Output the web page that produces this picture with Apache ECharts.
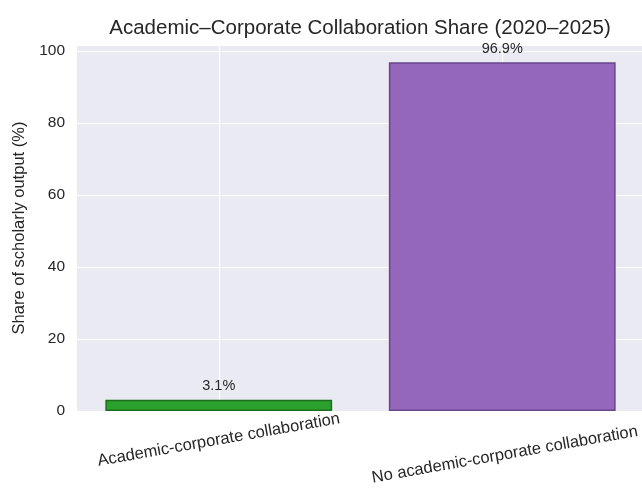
<!DOCTYPE html>
<html>
<head>
<meta charset="utf-8">
<script src="https://cdn.jsdelivr.net/npm/echarts@6/dist/echarts.min.js"></script>
<style>
  html, body { margin: 0; padding: 0; background: #ffffff; }
  #chart { width: 642px; height: 490px; }
</style>
</head>
<body>
<div id="chart"></div>
<script>
// Share of scholarly output, 2020–2025
const categories = ['Academic-corporate collaboration', 'No academic-corporate collaboration'];
const shares = [3.1, 96.9];
const barColors = ['#2ca02c', '#9467bd'];
const edgeColors = ['#1d6e1d', '#67468a'];
const yTicks = [0, 20, 40, 60, 80, 100];

const FONT = '"Liberation Sans", Arial, sans-serif';
const TEXT = '#262626';
const X_LABEL = { fontFamily: FONT, fontSize: 16.5, color: TEXT };

const chart = echarts.init(document.getElementById('chart'), null, { renderer: 'canvas' });

chart.setOption({
  animation: false,
  backgroundColor: '#ffffff',
  textStyle: { fontFamily: FONT },
  title: {
    text: 'Academic\u2013Corporate Collaboration Share (2020\u20132025)',
    left: 355,
    textAlign: 'center',
    top: 13,
    textStyle: { fontFamily: FONT, fontSize: 20.5, fontWeight: 'normal', color: TEXT }
  },
  grid: {
    left: 77, right: -2, top: 45, bottom: 79,
    containLabel: false,
    outerBoundsMode: 'none',
    show: true, backgroundColor: '#eaeaf2', borderWidth: 0
  },
  xAxis: {
    type: 'category',
    data: categories,
    boundaryGap: true,
    axisLine: { show: false },
    axisTick: { show: false },
    splitLine: { show: false },
    axisLabel: {
      rotate: 10,
      align: 'center',
      margin: 29,
      ...X_LABEL,
      interval: 0,
      // the longer label hangs a little lower, as its rotated box is taller
      formatter: (v, i) => (i === 1 ? '{low|' + v + '}' : '{std|' + v + '}'),
      rich: {
        std: { ...X_LABEL },
        low: { ...X_LABEL, padding: [30, 0, 0, 0] }
      }
    }
  },
  yAxis: {
    type: 'value',
    min: 0,
    max: 101.7,
    interval: 20,
    name: 'Share of scholarly output (%)',
    nameLocation: 'middle',
    nameGap: 48,
    nameTextStyle: { fontFamily: FONT, fontSize: 16.5, color: TEXT },
    axisLine: { show: false },
    axisTick: { show: false },
    axisLabel: {
      showMaxLabel: false,
      margin: 12,
      fontFamily: FONT,
      fontSize: 15.5,
      color: TEXT,
      formatter: v => (yTicks.includes(v) ? String(v) : '')
    },
    splitLine: { show: true, lineStyle: { color: '#ffffff', width: 1.2 } }
  },
  series: [
    {
      // vertical grid lines at the category centres, kept beneath the bars
      type: 'line',
      data: [],
      z: 1,
      silent: true,
      markLine: {
        z: 1,
        silent: true,
        symbol: 'none',
        label: { show: false },
        lineStyle: { color: '#ffffff', width: 1.2, type: 'solid' },
        data: categories.map(c => ({ xAxis: c }))
      }
    },
    {
      type: 'bar',
      z: 3,
      barWidth: '80%',
      data: shares.map((v, i) => ({
        value: v,
        itemStyle: { color: barColors[i], borderColor: edgeColors[i], borderWidth: 1.5 }
      })),
      label: {
        show: true,
        position: 'top',
        distance: 6,
        fontFamily: FONT,
        fontSize: 14.5,
        color: TEXT,
        formatter: p => p.value.toFixed(1) + '%'
      }
    }
  ]
});
</script>
</body>
</html>
